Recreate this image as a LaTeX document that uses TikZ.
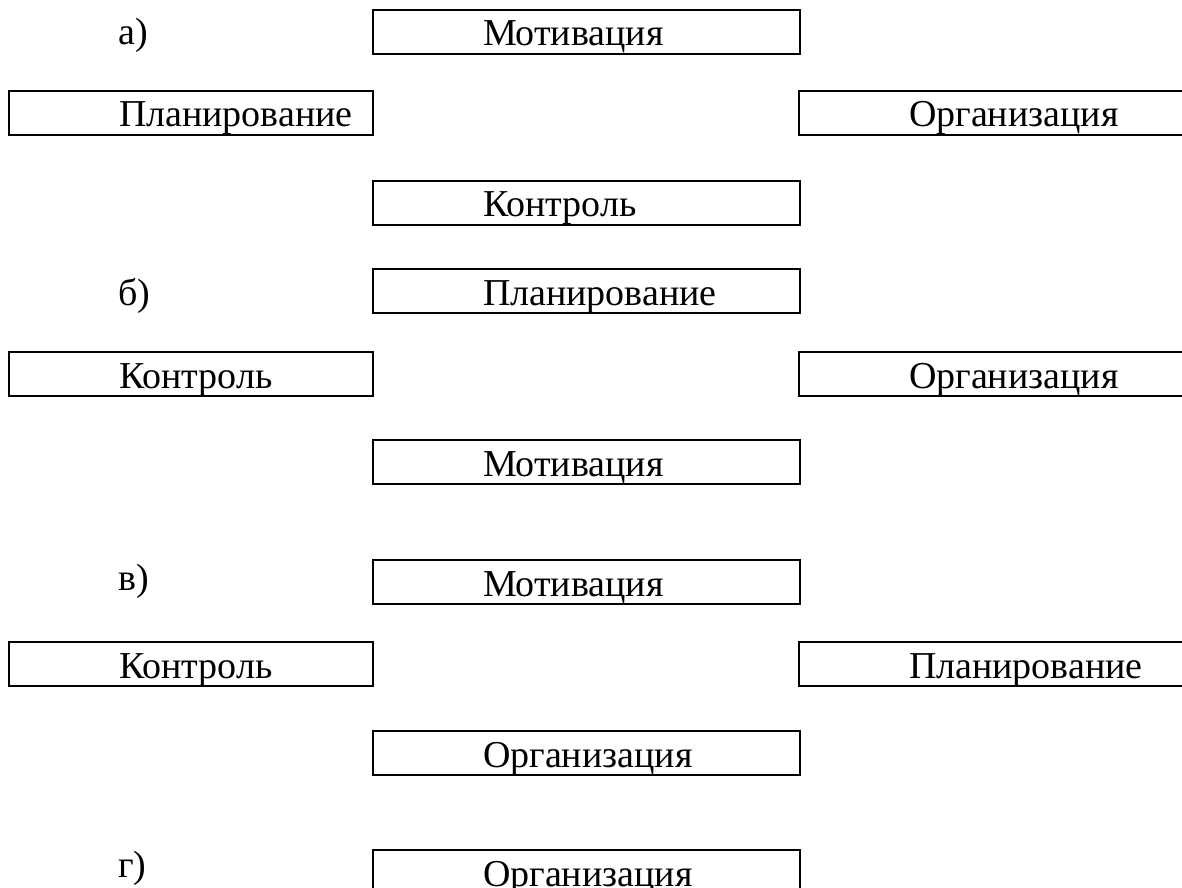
\documentclass[tikz,border=0pt]{standalone}
\usepackage{fontspec}
\setmainfont{Liberation Serif}
\tikzset{
  box/.style={draw,line width=1.5pt,anchor=north west,inner xsep=0pt,
    inner ysep=3pt,text height=24pt,text depth=3pt,text width=#1,
    align=left,execute at begin node={\hspace*{82.5pt}}},
  lbl/.style={anchor=base west,inner sep=0pt}
}
\begin{document}
\begin{tikzpicture}[x=.75pt,y=-.75pt,font=\fontsize{28.5}{34}\selectfont]
  \clip (0,0) rectangle (1182,888);
  % a)
  \node[lbl] (a-lbl) at (118,45) {а)};
  \node[box=320.25pt] (a-mot) at (372,9) {Мотивация};
  \node[box=273pt] (a-plan) at (8,90) {Планирование};
  \node[box=320.25pt] (a-org) at (798,90) {Организация};
  \node[box=320.25pt] (a-kon) at (372,180) {Контроль};
  % b)
  \node[lbl] (b-lbl) at (118,305) {б)};
  \node[box=320.25pt] (b-plan) at (372,268) {Планирование};
  \node[box=273pt] (b-kon) at (8,351) {Контроль};
  \node[box=320.25pt] (b-org) at (798,351) {Организация};
  \node[box=320.25pt] (b-mot) at (372,439) {Мотивация};
  % v)
  \node[lbl] (v-lbl) at (118,590) {в)};
  \node[box=320.25pt] (v-mot) at (372,559) {Мотивация};
  \node[box=273pt] (v-kon) at (8,641) {Контроль};
  \node[box=320.25pt] (v-plan) at (798,641) {Планирование};
  \node[box=320.25pt] (v-org) at (372,730) {Организация};
  % g)
  \node[lbl] (g-lbl) at (118,877) {г)};
  \node[box=320.25pt] (g-org) at (372,849) {Организация};
\end{tikzpicture}
\end{document}
